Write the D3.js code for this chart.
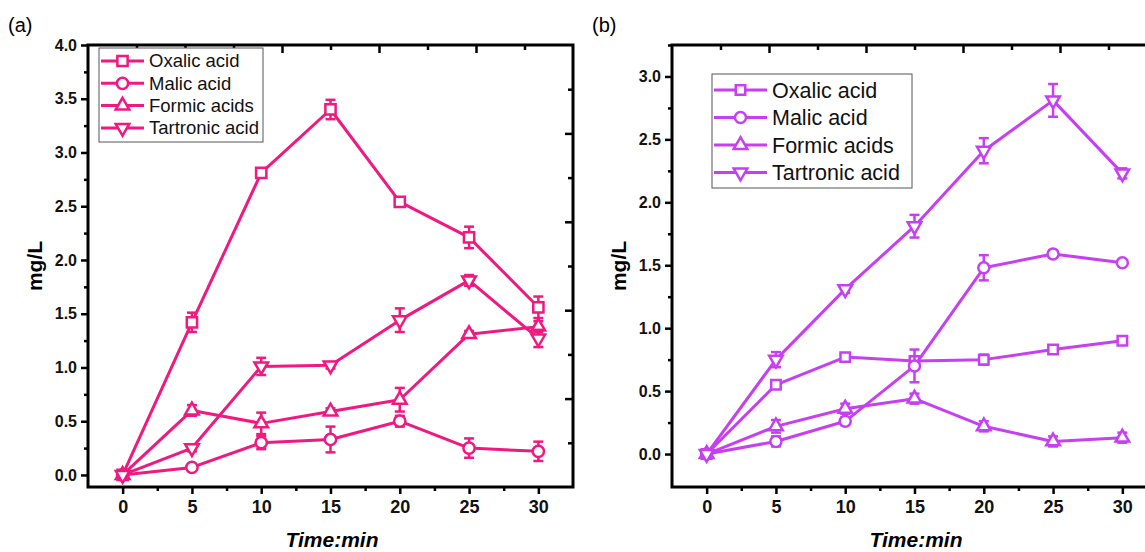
<!DOCTYPE html>
<html>
<head>
<meta charset="utf-8">
<script src="https://cdn.jsdelivr.net/npm/d3@7"></script>
<style>
  body { margin: 0; background: #fff; }
  svg { display: block; font-family: Arial, "Liberation Sans", sans-serif; }
</style>
</head>
<body>
<svg id="chart" width="1145" height="552"></svg>
<script>
// time points (min)
const times = [0, 5, 10, 15, 20, 25, 30];
const seriesNames = ['Oxalic acid', 'Malic acid', 'Formic acids', 'Tartronic acid'];

// panel (a) values, mg/L
const aOxalic    = [0, 1.42, 2.81, 3.40, 2.54, 2.21, 1.56];
const aMalic     = [0, 0.07, 0.30, 0.33, 0.50, 0.25, 0.22];
const aFormic    = [0, 0.60, 0.48, 0.59, 0.70, 1.31, 1.38];
const aTartronic = [0, 0.25, 1.01, 1.02, 1.44, 1.81, 1.27];
// panel (a) error (+/-)
const aOxalicErr    = [0, 0.09, 0.03, 0.09, 0.03, 0.10, 0.10];
const aMalicErr     = [0, 0.03, 0.06, 0.12, 0.05, 0.09, 0.09];
const aFormicErr    = [0, 0.05, 0.10, 0.03, 0.11, 0.03, 0.05];
const aTartronicErr = [0, 0.03, 0.08, 0.03, 0.11, 0.05, 0.08];

// panel (b) values, mg/L
const bOxalic    = [0, 0.55, 0.77, 0.74, 0.75, 0.83, 0.90];
const bMalic     = [0, 0.10, 0.26, 0.70, 1.48, 1.59, 1.52];
const bFormic    = [0, 0.22, 0.36, 0.44, 0.22, 0.10, 0.13];
const bTartronic = [0, 0.75, 1.31, 1.81, 2.41, 2.81, 2.23];
// panel (b) error (+/-)
const bOxalicErr    = [0, 0.03, 0.03, 0.03, 0.04, 0.03, 0.02];
const bMalicErr     = [0, 0.04, 0.03, 0.13, 0.10, 0.03, 0.02];
const bFormicErr    = [0, 0.05, 0.04, 0.04, 0.04, 0.04, 0.04];
const bTartronicErr = [0, 0.06, 0.03, 0.09, 0.10, 0.13, 0.04];

const xTicks = [0, 5, 10, 15, 20, 25, 30];
const aYTicks = [0, 0.5, 1.0, 1.5, 2.0, 2.5, 3.0, 3.5, 4.0];
const bYTicks = [0, 0.5, 1.0, 1.5, 2.0, 2.5, 3.0];

const svg = d3.select('#chart');

const symbols = [
  d3.symbol().type(d3.symbolSquare),
  d3.symbol().type(d3.symbolCircle),
  d3.symbol().type(d3.symbolTriangle),
  d3.symbol().type(d3.symbolTriangle)   // rotated -> down triangle
];

function drawPanel(cfg) {
  const g = svg.append('g');
  const x = d3.scaleLinear().domain([-2.5, 32.5]).range([cfg.left, cfg.left + 485]);
  const y = d3.scaleLinear().domain(cfg.yDomain).range([487, 45]);
  const right = cfg.left + 485;

  // frame
  g.append('rect')
    .attr('x', cfg.left).attr('y', 45)
    .attr('width', 485).attr('height', 442)
    .attr('fill', 'none').attr('stroke', '#000').attr('stroke-width', 3);

  // minor ticks
  const yMinor = d3.range(0, cfg.yDomain[1] + 0.001, 0.25)
    .filter(v => Math.abs(v * 2 - Math.round(v * 2)) > 0.01);
  g.append('g').attr('transform', `translate(${cfg.left},0)`)
    .call(d3.axisLeft(y).tickValues(yMinor).tickFormat('').tickSizeInner(4).tickSizeOuter(0))
    .call(a => a.select('.domain').remove());
  g.append('g').attr('transform', 'translate(0,487)')
    .call(d3.axisBottom(x).tickValues([2.5, 7.5, 12.5, 17.5, 22.5, 27.5]).tickFormat('').tickSizeInner(4).tickSizeOuter(0))
    .call(a => a.select('.domain').remove());

  // major ticks + labels
  const yAxis = g.append('g').attr('transform', `translate(${cfg.left},0)`)
    .call(d3.axisLeft(y).tickValues(cfg.yTicks).tickFormat(d3.format('.1f')).tickSizeInner(7).tickSizeOuter(0).tickPadding(4));
  yAxis.select('.domain').remove();
  yAxis.selectAll('text').attr('font-size', 16).attr('font-weight', 'bold').attr('fill', '#111');

  const xAxis = g.append('g').attr('transform', 'translate(0,487)')
    .call(d3.axisBottom(x).tickValues(xTicks).tickSizeInner(7).tickSizeOuter(0).tickPadding(6));
  xAxis.select('.domain').remove();
  xAxis.selectAll('text').attr('font-size', 18).attr('font-weight', 'bold').attr('fill', '#111');

  g.selectAll('.tick line').attr('stroke', '#000').attr('stroke-width', 2.5);

  // top axis ticks (inward), its own scale
  const top = d3.scaleLinear().domain([0, 10]).range([cfg.left, right]);
  g.append('g').attr('transform', 'translate(0,45)')
    .call(d3.axisBottom(top).tickValues([2, 4, 6, 8]).tickFormat('').tickSizeInner(8).tickSizeOuter(0))
    .call(a => a.select('.domain').remove());
  g.append('g').attr('transform', 'translate(0,45)')
    .call(d3.axisBottom(top).tickValues([1, 3, 5, 7, 9]).tickFormat('').tickSizeInner(5).tickSizeOuter(0))
    .call(a => a.select('.domain').remove());

  // right axis ticks (inward), its own scale
  const rightY = d3.scaleLinear().domain([0, 10]).range([487, 45]);
  g.append('g').attr('transform', `translate(${right},0)`)
    .call(d3.axisLeft(rightY).tickValues([2, 4, 6, 8]).tickFormat('').tickSizeInner(8).tickSizeOuter(0))
    .call(a => a.select('.domain').remove());
  g.append('g').attr('transform', `translate(${right},0)`)
    .call(d3.axisLeft(rightY).tickValues([1, 3, 5, 7, 9]).tickFormat('').tickSizeInner(5).tickSizeOuter(0))
    .call(a => a.select('.domain').remove());
  g.selectAll('.tick line').attr('stroke', '#000').attr('stroke-width', 2.5);

  // axis titles
  g.append('text')
    .attr('transform', `translate(${cfg.left - 46},266) rotate(-90)`)
    .attr('text-anchor', 'middle').attr('font-size', 21).attr('font-weight', 'bold')
    .text('mg/L');
  g.append('text')
    .attr('x', cfg.left + 244).attr('y', 547)
    .attr('text-anchor', 'middle').attr('font-size', 21).attr('font-weight', 'bold').attr('font-style', 'italic')
    .text('Time:min');
  g.append('text')
    .attr('x', cfg.left - 80).attr('y', 32)
    .attr('font-size', 20)
    .text(cfg.label);

  // series
  const line = d3.line().x((d, i) => x(times[i])).y(d => y(d));
  cfg.series.forEach((vals, s) => {
    const errs = cfg.errors[s];
    const sg = g.append('g');
    sg.append('path').datum(vals)
      .attr('d', line).attr('fill', 'none')
      .attr('stroke', cfg.color).attr('stroke-width', 3).attr('stroke-linejoin', 'round');

    // error bars
    const eb = sg.selectAll('.err').data(vals.map((v, i) => ({ t: times[i], v: v, e: errs[i] })).filter(d => d.e > 0))
      .enter().append('g');
    eb.append('line')
      .attr('x1', d => x(d.t)).attr('x2', d => x(d.t))
      .attr('y1', d => y(d.v - d.e)).attr('y2', d => y(d.v + d.e));
    eb.append('line')
      .attr('x1', d => x(d.t) - 5).attr('x2', d => x(d.t) + 5)
      .attr('y1', d => y(d.v + d.e)).attr('y2', d => y(d.v + d.e));
    eb.append('line')
      .attr('x1', d => x(d.t) - 5).attr('x2', d => x(d.t) + 5)
      .attr('y1', d => y(d.v - d.e)).attr('y2', d => y(d.v - d.e));
    eb.selectAll('line').attr('stroke', cfg.color).attr('stroke-width', 2.5);

    // markers
    sg.selectAll('.mk').data(vals).enter().append('path')
      .attr('d', symbols[s].size(cfg.markerSize[s]))
      .attr('transform', (d, i) => `translate(${x(times[i])},${y(d)})` + (s === 3 ? ' rotate(180)' : ''))
      .attr('fill', '#fff').attr('stroke', cfg.color).attr('stroke-width', 2.5);
  });

  // legend
  const L = cfg.legend;
  const lg = g.append('g');
  lg.append('rect')
    .attr('x', L.x).attr('y', L.y).attr('width', L.w).attr('height', L.h)
    .attr('fill', '#fff').attr('stroke', '#555').attr('stroke-width', 1);
  seriesNames.forEach((name, s) => {
    const ry = L.y + L.first + s * L.step;
    lg.append('line')
      .attr('x1', L.x + 2).attr('x2', L.x + 2 + L.lineW)
      .attr('y1', ry).attr('y2', ry)
      .attr('stroke', cfg.color).attr('stroke-width', 3);
    lg.append('path')
      .attr('d', symbols[s].size(cfg.markerSize[s]))
      .attr('transform', `translate(${L.x + 2 + L.lineW / 2},${ry})` + (s === 3 ? ' rotate(180)' : ''))
      .attr('fill', '#fff').attr('stroke', cfg.color).attr('stroke-width', 2.5);
    lg.append('text')
      .attr('x', L.x + L.lineW + 7).attr('y', ry)
      .attr('dy', '0.35em').attr('font-size', L.font).attr('fill', '#111')
      .text(name);
  });
}

drawPanel({
  label: '(a)',
  left: 88,
  yDomain: [-0.112, 4.0],
  yTicks: aYTicks,
  color: '#f0197f',
  series: [aOxalic, aMalic, aFormic, aTartronic],
  errors: [aOxalicErr, aMalicErr, aFormicErr, aTartronicErr],
  markerSize: [105, 100, 80, 80],
  legend: { x: 99, y: 48, w: 164, h: 94, first: 13, step: 22.3, lineW: 43, font: 18.5 }
});

drawPanel({
  label: '(b)',
  left: 672,
  yDomain: [-0.262, 3.25],
  yTicks: bYTicks,
  color: '#c63ff2',
  series: [bOxalic, bMalic, bFormic, bTartronic],
  errors: [bOxalicErr, bMalicErr, bFormicErr, bTartronicErr],
  markerSize: [90, 95, 80, 80],
  legend: { x: 712, y: 74, w: 200, h: 114, first: 16, step: 27.5, lineW: 53, font: 21.5 }
});
</script>
</body>
</html>
